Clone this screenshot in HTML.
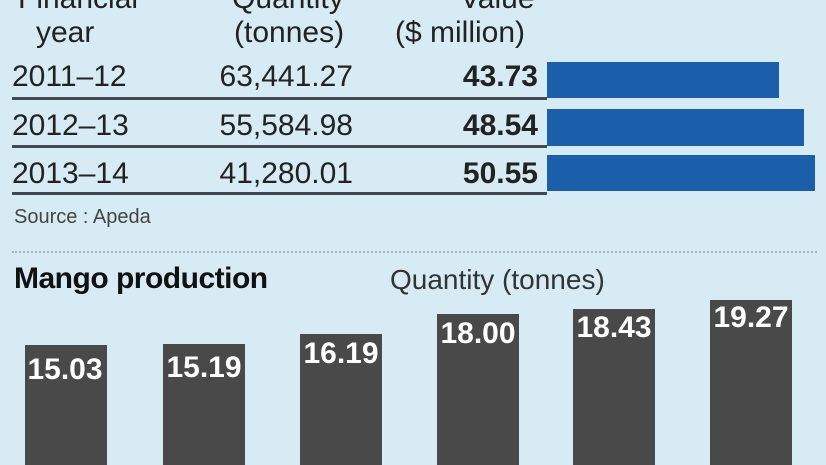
<!DOCTYPE html>
<html><head><style>
body{margin:0;width:826px;height:465px;overflow:hidden;background:#d6ebf3;position:relative;font-family:"Liberation Sans Narrow","Liberation Sans",sans-serif;color:#222}
.t{position:absolute;white-space:nowrap;line-height:1}
.r{text-align:right}
.line{position:absolute;left:12px;width:535px;height:3px;background:#3d4a52}
.bb{position:absolute;left:547px;background:#1b5ea9}
.bar{position:absolute;background:#494949;bottom:0;width:82px}
.v{position:absolute;color:#fff;font-weight:bold;font-size:30px;width:82px;text-align:center;line-height:1}
</style></head><body>
<div class="t" style="left:18px;top:-16px;font-size:30px">Financial</div>
<div class="t" style="left:36px;top:18px;font-size:30px">year</div>
<div class="t" style="left:232px;top:-16px;font-size:30px">Quantity</div>
<div class="t" style="left:234px;top:18px;font-size:30px">(tonnes)</div>
<div class="t" style="left:460px;top:-16px;font-size:30px">Value</div>
<div class="t" style="left:395px;top:18px;font-size:30px">($ million)</div>

<div class="t" style="left:12px;top:62px;font-size:30px">2011–12</div>
<div class="t r" style="left:150px;width:203px;top:62px;font-size:30px">63,441.27</div>
<div class="t r" style="left:400px;width:138px;top:62px;font-size:30px;font-weight:bold">43.73</div>
<div class="line" style="top:97px"></div>
<div class="t" style="left:12px;top:111px;font-size:30px">2012–13</div>
<div class="t r" style="left:150px;width:203px;top:111px;font-size:30px">55,584.98</div>
<div class="t r" style="left:400px;width:138px;top:111px;font-size:30px;font-weight:bold">48.54</div>
<div class="line" style="top:145px"></div>
<div class="t" style="left:12px;top:159px;font-size:30px">2013–14</div>
<div class="t r" style="left:150px;width:203px;top:159px;font-size:30px">41,280.01</div>
<div class="t r" style="left:400px;width:138px;top:159px;font-size:30px;font-weight:bold">50.55</div>
<div class="line" style="top:192px"></div>
<div class="bb" style="top:62px;height:36px;width:232px"></div>
<div class="bb" style="top:109px;height:37px;width:257px"></div>
<div class="bb" style="top:155px;height:36px;width:268px"></div>
<div class="t" style="left:14px;top:207px;font-size:20px;color:#444">Source : Apeda</div>
<div style="position:absolute;left:12px;top:251px;width:805px;border-top:2px dotted #9fb3bd"></div>
<div class="t" style="left:14px;top:264px;font-size:30px;font-weight:bold;color:#111;letter-spacing:-0.5px">Mango production</div>
<div class="t" style="left:390px;top:266px;font-size:28px;color:#333">Quantity (tonnes)</div>

<div class="bar" style="left:25px;top:345px"></div>
<div class="bar" style="left:163px;top:344px"></div>
<div class="bar" style="left:300px;top:334px"></div>
<div class="bar" style="left:437px;top:314px"></div>
<div class="bar" style="left:573px;top:309px"></div>
<div class="bar" style="left:710px;top:300px"></div>
<div class="v" style="left:24px;top:355px">15.03</div>
<div class="v" style="left:163px;top:353px">15.19</div>
<div class="v" style="left:300px;top:339px">16.19</div>
<div class="v" style="left:437px;top:319px">18.00</div>
<div class="v" style="left:573px;top:313px">18.43</div>
<div class="v" style="left:710px;top:303px">19.27</div>
</body></html>
